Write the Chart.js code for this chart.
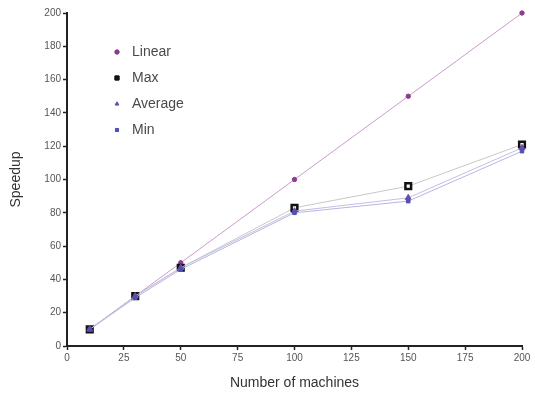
<!DOCTYPE html>
<html>
<head>
<meta charset="utf-8">
<script src="https://cdn.jsdelivr.net/npm/chart.js@4"></script>
<style>
  body { margin: 0; background: #fff; }
  #wrap { width: 535px; height: 396px; }
</style>
</head>
<body>
<div id="wrap"><canvas id="myChart"></canvas></div>
<script>
const machines = [10, 30, 50, 100, 150, 200];
const linear = [10, 30, 50, 100, 150, 200];
const maxSpeed = [10, 30, 47, 83, 96, 121];
const avgSpeed = [10, 30, 47, 81, 89, 119];
const minSpeed = [10, 29, 46, 80, 87, 117];

function pts(vals) {
  const out = [];
  for (let i = 0; i < machines.length; i++) {
    out.push({ x: machines[i], y: vals[i] });
  }
  return out;
}

const series = [
  { label: "Linear", data: linear, line: "#c99bcb", point: "#8e3b8f", style: "circle", r: 2.2, bw: 1 },
  { label: "Max", data: maxSpeed, line: "#c8c8c8", point: "#111111", style: "rect", r: 4, bw: 2.5 },
  { label: "Average", data: avgSpeed, line: "#c7bce0", point: "#6a4fa8", style: "triangle", r: 3.5, bw: 1 },
  { label: "Min", data: minSpeed, line: "#b5b5e6", point: "#4f4fb5", style: "rect", r: 2.5, bw: 1 },
];

// legend drawn inside the plot, upper left
const innerLegend = {
  id: "innerLegend",
  afterDraw(chart) {
    const ctx = chart.ctx;
    ctx.save();
    ctx.font = "14px 'Liberation Sans', Arial, sans-serif";
    ctx.textBaseline = "middle";
    for (let i = 0; i < series.length; i++) {
      const s = series[i];
      const y = 52 + i * 26;
      ctx.fillStyle = s.point;
      ctx.strokeStyle = s.point;
      ctx.lineWidth = 1;
      const r = s.label === "Max" ? 3 : 2.2;
      Chart.helpers.drawPoint(ctx, { pointStyle: s.style, radius: r, borderWidth: 1 }, 117, y);
      ctx.fill();
      ctx.fillStyle = "#4a4a4a";
      ctx.fillText(s.label, 132, y);
    }
    ctx.restore();
  },
};

const ctx = document.getElementById("myChart");

new Chart(ctx, {
  type: "line",
  data: {
    datasets: series.map((s) => ({
      label: s.label,
      data: pts(s.data),
      borderColor: s.line,
      borderWidth: 1,
      pointStyle: s.style,
      pointRadius: s.r,
      pointBackgroundColor: s.label === "Max" ? "#ffffff" : s.point,
      pointBorderColor: s.point,
      pointBorderWidth: s.bw,
      tension: 0,
      clip: false,
    })).reverse(),
  },
  options: {
    responsive: true,
    maintainAspectRatio: false,
    animation: false,
    layout: { padding: { top: 13, right: 13, left: 0, bottom: 0 } },
    plugins: { legend: { display: false }, tooltip: { enabled: false } },
    scales: {
      x: {
        type: "linear",
        min: 0,
        max: 200,
        ticks: { stepSize: 25, color: "#555", font: { size: 10, family: "'Liberation Sans', Arial" }, padding: 2 },
        grid: { drawOnChartArea: false, tickLength: 4, color: "#222", tickWidth: 1.5 },
        border: { color: "#222", width: 2 },
        title: { display: true, text: "Number of machines", color: "#333", font: { size: 14, family: "'Liberation Sans', Arial" }, padding: { top: 6 } },
        afterFit(scale) { scale.height = 50; },
      },
      y: {
        min: 0,
        max: 200,
        ticks: { stepSize: 20, color: "#555", font: { size: 10, family: "'Liberation Sans', Arial" }, padding: 2 },
        grid: { drawOnChartArea: false, tickLength: 4, color: "#222", tickWidth: 1.5 },
        border: { color: "#222", width: 2 },
        title: { display: true, text: "Speedup", color: "#333", font: { size: 14, family: "'Liberation Sans', Arial" }, padding: { top: 8, bottom: 4 } },
        afterFit(scale) { scale.width = 67; },
      },
    },
  },
  plugins: [innerLegend],
});
</script>
</body>
</html>
